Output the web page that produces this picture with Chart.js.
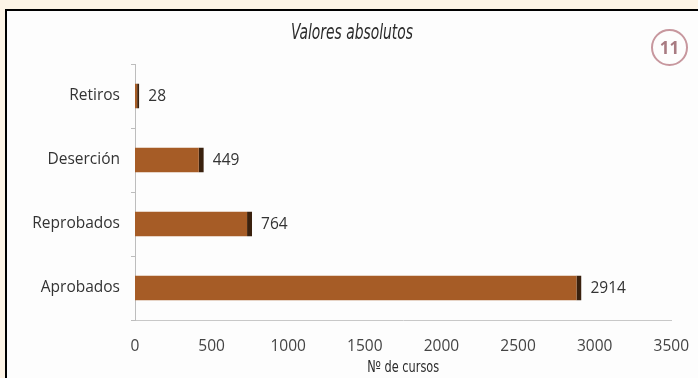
<!DOCTYPE html>
<html>
<head>
<meta charset="utf-8">
<script src="https://cdn.jsdelivr.net/npm/chart.js@4.4.0/dist/chart.umd.min.js"></script>
<style>
    html, body { margin: 0; padding: 0; }
    body { width: 698px; height: 378px; background: #fdf4e6; position: relative; overflow: hidden; }
    #frame {
        position: absolute; left: 5px; top: 9px; width: 720px; height: 400px;
        background: #fdfdfd; border: 2px solid #000;
    }
    #badge {
        position: absolute; left: 651px; top: 29px; width: 33px; height: 33px;
        border: 2px solid #c7979e; border-radius: 50%;
        font: bold 17px "Open Sans", sans-serif; color: #a87b82;
        display: flex; align-items: center; justify-content: center;
    }
    #wrap { position: absolute; left: 0; top: 0; width: 698px; height: 378px; }
</style>
</head>
<body>
<div id="frame"></div>
<div id="wrap"><canvas id="barChart" width="698" height="378"></canvas></div>
<div id="badge">11</div>
<script>
const categories = ['Retiros', 'Deserción', 'Reprobados', 'Aprobados'];
const cursos = [28, 449, 764, 2914];
const xTicks = [0, 500, 1000, 1500, 2000, 2500, 3000, 3500];
const chartTitle = 'Valores absolutos';
const axisTitle = 'Nº de cursos';

// textes condensés (titre, axe) + valeurs au bout des barres
const textPlugin = {
    id: 'textPlugin',
    afterDatasetsDraw(chart) {
        const ctx = chart.ctx;
        const area = chart.chartArea;
        const drawNarrow = (text, font, cx, cy, width) => {
            ctx.save();
            ctx.font = font;
            ctx.fillStyle = '#2b2b2b';
            ctx.textAlign = 'center';
            ctx.textBaseline = 'middle';
            const w = ctx.measureText(text).width;
            ctx.translate(cx, cy);
            ctx.scale(width / w, 1);
            ctx.fillText(text, 0, 0);
            ctx.restore();
        };
        drawNarrow(chartTitle, 'italic 22px "DejaVu Sans Condensed"', 352, 33, 122);
        drawNarrow(axisTitle, '15px "DejaVu Sans Condensed"', (area.left + area.right) / 2, 368, 72);

        ctx.save();
        ctx.font = '15.5px "Open Sans"';
        ctx.fillStyle = '#333';
        ctx.textBaseline = 'middle';
        chart.getDatasetMeta(0).data.forEach((bar, i) => {
            ctx.fillText(String(cursos[i]), bar.x + 9, bar.y + 1);
        });
        ctx.restore();
    }
};

new Chart(document.getElementById('barChart'), {
    type: 'bar',
    data: {
        labels: categories,
        datasets: [{
            data: cursos,
            backgroundColor: '#a65c26',
            borderColor: '#3a210e',
            borderWidth: { top: 0, bottom: 0, left: 0, right: 5 },
            borderSkipped: false,
            barPercentage: 0.39,
            categoryPercentage: 1
        }]
    },
    options: {
        indexAxis: 'y',
        responsive: false,
        animation: false,
        layout: { padding: { top: 64, right: 23, left: 0, bottom: 0 } },
        plugins: {
            legend: { display: false },
            tooltip: { enabled: false }
        },
        scales: {
            x: {
                min: 0,
                max: 3500,
                afterBuildTicks: (scale) => { scale.ticks = xTicks.map(v => ({ value: v })); },
                afterFit: (scale) => { scale.height = 58; },
                grid: { display: false },
                border: { display: true, color: '#c8c8c8', width: 1 },
                ticks: {
                    color: '#444',
                    padding: 9,
                    autoSkip: false,
                    maxRotation: 0,
                    callback: (value) => String(value),
                    font: { family: 'Open Sans', size: 15.5 }
                }
            },
            y: {
                afterFit: (scale) => { scale.width = 135; },
                grid: { drawOnChartArea: false, tickLength: 4, color: '#bdbdbd' },
                border: { display: true, color: '#bdbdbd', width: 1 },
                ticks: {
                    color: '#333',
                    padding: 11,
                    font: { family: 'Open Sans', size: 15.5 }
                }
            }
        }
    },
    plugins: [textPlugin]
});
</script>
</body>
</html>
